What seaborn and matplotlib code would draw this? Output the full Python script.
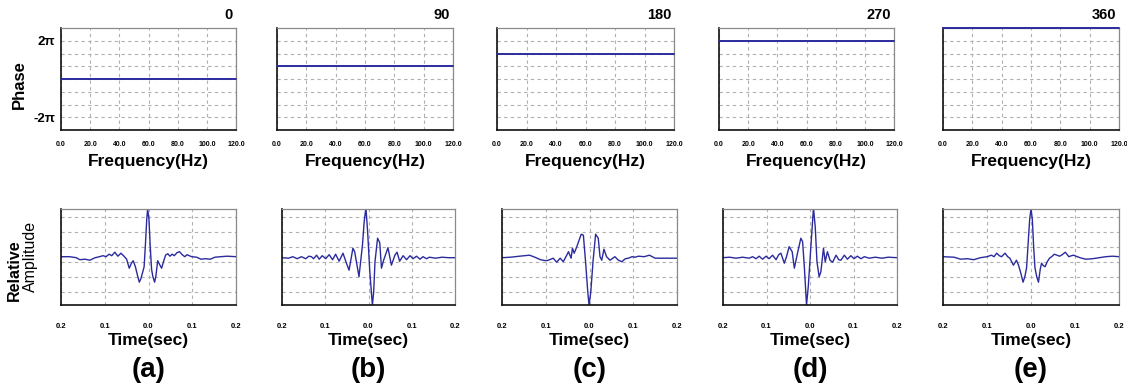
import numpy as np
import pandas as pd
import matplotlib
matplotlib.use("Agg")
import matplotlib.pyplot as plt
import seaborn as sns

# ---------------- data ----------------
phase_titles = ["0", "90", "180", "270", "360"]
phase_deg = [0, 90, 180, 270, 360]
freq_ends = [0.0, 120.0]
freq_ticks = [0, 20, 40, 60, 80, 100, 120]
freq_ticklabels = ["0.0", "20.0", "40.0", "60.0", "80.0", "100.0", "120.0"]
time_ticks = [-0.2, -0.1, 0.0, 0.1, 0.2]
time_ticklabels = ["0.2", "0.1", "0.0", "0.1", "0.2"]
panel_letters = ["(a)", "(b)", "(c)", "(d)", "(e)"]

a_t = [-0.200, -0.180, -0.165, -0.157, -0.145, -0.134, -0.122, -0.112, -0.104, -0.097,
       -0.090, -0.084, -0.077, -0.070, -0.063, -0.056, -0.050, -0.044, -0.039, -0.035,
       -0.030, -0.025, -0.021, -0.017, -0.013, -0.010, -0.007, -0.004, -0.002, 0.001,
       0.004, 0.007, 0.010, 0.014, 0.017, 0.021, 0.025, 0.030, 0.035, 0.039,
       0.044, 0.049, 0.054, 0.059, 0.065, 0.071, 0.077, 0.083, 0.088, 0.093,
       0.099, 0.110, 0.120, 0.130, 0.141, 0.152, 0.165, 0.180, 0.200]
a_amp = [0.10, 0.10, 0.08, 0.04, 0.05, 0.03, 0.08, 0.10, 0.12, 0.10,
         0.15, 0.12, 0.19, 0.11, 0.17, 0.11, 0.05, -0.13, -0.03, 0.02,
         -0.10, -0.28, -0.41, -0.33, -0.20, -0.10, 0.35, 0.85, 1.06, 0.85,
         0.30, -0.15, -0.30, -0.41, -0.28, 0.02, -0.05, -0.13, 0.02, 0.13,
         0.16, 0.11, 0.15, 0.12, 0.18, 0.20, 0.14, 0.10, 0.14, 0.12,
         0.10, 0.09, 0.05, 0.06, 0.05, 0.09, 0.10, 0.11, 0.10]

b_t = [-0.200, -0.185, -0.175, -0.165, -0.155, -0.145, -0.138, -0.132, -0.127, -0.120,
       -0.114, -0.107, -0.099, -0.091, -0.083, -0.076, -0.068, -0.059, -0.051, -0.045,
       -0.036, -0.032, -0.022, -0.014, -0.010, -0.006, -0.002, 0.003, 0.009, 0.012,
       0.015, 0.021, 0.026, 0.030, 0.035, 0.045, 0.053, 0.061, 0.066, 0.072,
       0.080, 0.088, 0.096, 0.103, 0.111, 0.119, 0.126, 0.134, 0.141, 0.155,
       0.170, 0.185, 0.200]
b_amp = [0.08, 0.07, 0.10, 0.06, 0.10, 0.06, 0.11, 0.10, 0.06, 0.13,
         0.05, 0.12, 0.06, 0.14, 0.04, 0.15, 0.01, 0.17, -0.03, -0.17,
         0.27, 0.20, -0.30, 0.33, 0.80, 1.08, 0.60, -0.20, -0.87, -0.60,
         0.00, 0.47, 0.38, -0.13, 0.03, 0.28, -0.07, 0.13, 0.19, 0.01,
         0.12, 0.04, 0.12, 0.06, 0.11, 0.05, 0.10, 0.06, 0.09, 0.07,
         0.09, 0.08, 0.08]

c_t = [-0.200, -0.180, -0.160, -0.137, -0.125, -0.112, -0.100, -0.094, -0.083, -0.075,
       -0.067, -0.060, -0.052, -0.048, -0.042, -0.039, -0.035, -0.029, -0.019, -0.014,
       -0.009, -0.004, -0.001, 0.003, 0.008, 0.014, 0.020, 0.024, 0.028, 0.033,
       0.039, 0.047, 0.058, 0.066, 0.074, 0.082, 0.089, 0.097, 0.104, 0.112,
       0.125, 0.137, 0.150, 0.170, 0.200]
c_amp = [0.08, 0.09, 0.11, 0.13, 0.09, 0.04, 0.02, 0.03, 0.07, -0.01,
         0.07, 0.00, 0.13, 0.20, 0.07, 0.27, 0.17, 0.30, 0.55, 0.53,
         0.00, -0.60, -0.87, -0.60, 0.00, 0.55, 0.47, 0.10, 0.03, 0.25,
         0.10, 0.03, 0.10, 0.03, 0.00, 0.06, 0.07, 0.10, 0.09, 0.11,
         0.10, 0.13, 0.07, 0.07, 0.07]

d_t = [-0.200, -0.185, -0.170, -0.155, -0.140, -0.132, -0.124, -0.117, -0.109, -0.101,
       -0.094, -0.086, -0.078, -0.072, -0.067, -0.059, -0.054, -0.048, -0.041, -0.036,
       -0.028, -0.021, -0.017, -0.013, -0.008, -0.004, 0.002, 0.008, 0.012, 0.016,
       0.021, 0.025, 0.031, 0.035, 0.040, 0.046, 0.052, 0.060, 0.066, 0.071,
       0.079, 0.086, 0.094, 0.101, 0.109, 0.117, 0.125, 0.136, 0.150, 0.165,
       0.180, 0.200]
d_amp = [0.08, 0.09, 0.07, 0.09, 0.07, 0.10, 0.06, 0.11, 0.05, 0.11,
         0.06, 0.13, 0.04, 0.14, 0.17, -0.03, 0.10, 0.30, 0.20, -0.13,
         0.20, 0.47, 0.40, -0.10, -0.87, -0.50, 0.30, 1.08, 0.70, 0.00,
         -0.30, -0.20, 0.27, 0.00, 0.20, 0.03, -0.01, 0.13, 0.04, 0.03,
         0.13, 0.05, 0.12, 0.06, 0.11, 0.06, 0.10, 0.07, 0.09, 0.07,
         0.09, 0.08]

e_t = [-0.200, -0.175, -0.160, -0.145, -0.130, -0.115, -0.100, -0.090, -0.084, -0.078,
       -0.072, -0.067, -0.059, -0.053, -0.048, -0.040, -0.033, -0.028, -0.024, -0.018,
       -0.014, -0.010, -0.007, -0.003, 0.000, 0.003, 0.006, 0.009, 0.013, 0.017,
       0.021, 0.024, 0.028, 0.032, 0.037, 0.042, 0.047, 0.053, 0.059, 0.065,
       0.071, 0.078, 0.086, 0.092, 0.097, 0.105, 0.115, 0.125, 0.140, 0.155,
       0.170, 0.185, 0.200]
e_amp = [0.10, 0.09, 0.05, 0.06, 0.04, 0.08, 0.10, 0.13, 0.10, 0.17,
         0.12, 0.10, 0.17, 0.10, 0.07, -0.07, 0.03, -0.08, -0.20, -0.41,
         -0.30, -0.12, 0.30, 0.85, 1.06, 0.85, 0.30, -0.12, -0.30, -0.41,
         -0.15, -0.03, -0.08, -0.10, 0.00, 0.07, 0.10, 0.15, 0.13, 0.11,
         0.14, 0.19, 0.10, 0.12, 0.13, 0.10, 0.07, 0.05, 0.06, 0.08,
         0.10, 0.11, 0.10]

wave_t = [a_t, b_t, c_t, d_t, e_t]
wave_amp = [a_amp, b_amp, c_amp, d_amp, e_amp]

# ---------------- style ----------------
sns.set_style("white")
plt.rcParams["font.family"] = ["Liberation Sans", "DejaVu Sans"]
plt.rcParams["text.color"] = "black"
plt.rcParams["xtick.color"] = "black"
plt.rcParams["ytick.color"] = "black"

W, H = 1127, 392
fig = plt.figure(figsize=(W / 100, H / 100), dpi=100)
LINE = "#2b2b9e"
GRID = "#b0b0b0"


def rect(l, r, t, b):
    return [l / W, 1 - b / H, (r - l) / W, (b - t) / H]


def fx(x):
    return x / W


def fy(y):
    return 1 - y / H


def style_axes(ax):
    for s in ["left", "bottom"]:
        ax.spines[s].set_color("#111111")
        ax.spines[s].set_linewidth(1.2)
    for s in ["top", "right"]:
        ax.spines[s].set_color("#8a8a8a")
        ax.spines[s].set_linewidth(0.9)
    ax.grid(True, ls=(0, (3, 3)), color=GRID, lw=0.8)
    ax.set_xlabel("")
    ax.set_ylabel("")


top_boxes = [(61, 236), (277, 453), (497, 674), (719, 894), (943, 1119)]
bot_boxes = [(61, 236), (282, 455), (502, 677), (723, 897), (943, 1119)]
TOP = (28, 130)
BOT = (209, 305)

pi = np.pi
for i in range(5):
    # ---- phase panel ----
    l, r = top_boxes[i]
    ax = fig.add_axes(rect(l, r, TOP[0], TOP[1]))
    ph = np.deg2rad(phase_deg[i])
    df = pd.DataFrame({"freq": freq_ends, "phase": [ph, ph]})
    sns.lineplot(data=df, x="freq", y="phase", ax=ax, color=LINE, lw=1.4,
                 estimator=None)
    for ln in ax.get_lines():
        ln.set_clip_on(False)
        ln.set_zorder(5)
    ax.set_xlim(0, 120)
    ax.set_ylim(-2 * pi, 2 * pi)
    ax.set_xticks(freq_ticks)
    ax.set_xticklabels(freq_ticklabels, fontsize=5, fontweight="bold")
    yt = [k * pi / 2 for k in range(-3, 4)]
    ax.set_yticks(yt)
    if i == 0:
        ax.set_yticklabels(["-2π", "", "", "", "", "", "2π"], fontsize=9.5,
                           fontweight="bold")
    else:
        ax.set_yticklabels([""] * 7)
    ax.tick_params(axis="x", length=0, pad=8)
    ax.tick_params(axis="y", length=0, pad=4)
    style_axes(ax)
    fig.text(fx(r - 3), fy(15), phase_titles[i], ha="right", va="center",
             fontsize=10.5, fontweight="bold")
    fig.text(fx((l + r) / 2), fy(162), "Frequency(Hz)", ha="center",
             va="center", fontsize=12.5, fontweight="bold")

    # ---- wavelet panel ----
    l, r = bot_boxes[i]
    ax = fig.add_axes(rect(l, r, BOT[0], BOT[1]))
    dfw = pd.DataFrame({"time": wave_t[i], "amp": wave_amp[i]})
    sns.lineplot(data=dfw, x="time", y="amp", ax=ax, color=LINE, lw=1.0,
                 estimator=None, sort=False)
    ax.set_xlim(-0.2, 0.2)
    ax.set_ylim(-0.866, 1.054)
    ax.set_xticks(time_ticks)
    ax.set_xticklabels(time_ticklabels, fontsize=5.5, fontweight="bold")
    ax.set_yticks([-0.6, -0.3, 0.0, 0.3, 0.6, 0.9])
    ax.set_yticklabels([""] * 6)
    ax.tick_params(axis="x", length=0, pad=13)
    ax.tick_params(axis="y", length=0)
    style_axes(ax)
    fig.text(fx((l + r) / 2), fy(341), "Time(sec)", ha="center", va="center",
             fontsize=12.5, fontweight="bold")
    fig.text(fx((l + r) / 2), fy(370), panel_letters[i], ha="center",
             va="center", fontsize=20, fontweight="bold")

fig.text(fx(19), fy(85), "Phase", rotation=90, ha="center", va="center",
         fontsize=12, fontweight="bold")
fig.text(fx(14), fy(270), "Relative", rotation=90, ha="center", va="center",
         fontsize=11.5, fontweight="bold")
fig.text(fx(30), fy(256), "Amplitude", rotation=90, ha="center", va="center",
         fontsize=11.5)

fig.savefig("out.png", dpi=100, facecolor="white")
